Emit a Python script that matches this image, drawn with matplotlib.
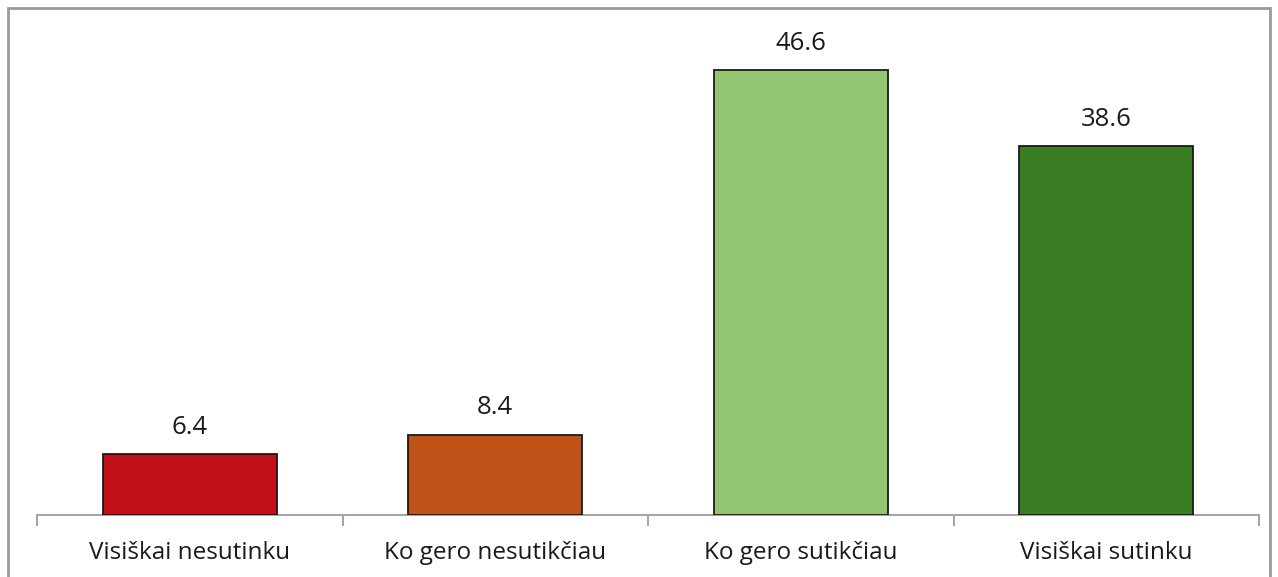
import matplotlib
matplotlib.use("Agg")
import matplotlib.pyplot as plt
from matplotlib.patches import Rectangle

categories = ["Visiškai nesutinku", "Ko gero nesutikčiau", "Ko gero sutikčiau", "Visiškai sutinku"]
values = [6.4, 8.4, 46.6, 38.6]
colors = ["#C00F16", "#C05117", "#93C572", "#3B7D23"]

plt.rcParams['font.family'] = ['Open Sans', 'DejaVu Sans']

W, H = 1278, 577
fig = plt.figure(figsize=(W/100, H/100), dpi=100)
ax = fig.add_axes([37/W, 1 - 515/H, (1259-37)/W, (515-37.5)/H])

x = range(len(categories))
bars = ax.bar(x, values, width=0.57, color=colors, edgecolor="#1a1a1a", linewidth=1.3, zorder=3)
for xi, v in zip(x, values):
    ax.text(xi, v + 1.5, f"{v:.1f}", ha="center", va="bottom", fontsize=18.5, color="#1a1a1a")

ax.set_xlim(-0.5, len(categories) - 0.5)
ax.set_ylim(0, 50)
ax.set_yticks([])
for s in ["top", "right", "left"]:
    ax.spines[s].set_visible(False)
ax.spines["bottom"].set_color("#A6A6A6")
ax.spines["bottom"].set_linewidth(1.5)
ax.set_xticks([i - 0.5 for i in range(len(categories) + 1)])
ax.set_xticklabels([])
ax.tick_params(axis="x", length=8, width=1.5, color="#A6A6A6")
for xi, c in zip(x, categories):
    ax.text(xi, -35/477.5, c, transform=ax.get_xaxis_transform(), ha="center", va="center_baseline",
            fontsize=17.5, color="#1a1a1a")

fig.patches.append(Rectangle((8/W, -0.05), (1270-8)/W, 1 - 8/H + 0.05, transform=fig.transFigure,
                             fill=False, edgecolor="#9A9A9A", linewidth=2))
fig.savefig("out.png", dpi=100)
